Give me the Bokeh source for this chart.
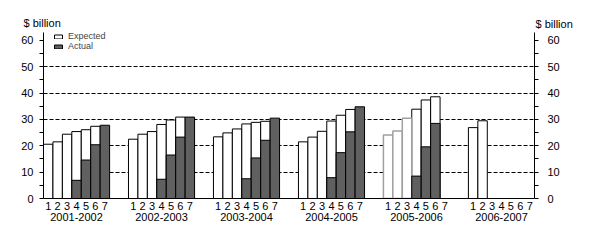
from bokeh.plotting import figure
from bokeh.models import (ColumnDataSource, FixedTicker, LinearAxis, Range1d,
                          Label, Legend, LegendItem)
from bokeh.embed import file_html
from bokeh.resources import INLINE

# ---- data ----
years = ["2001-2002", "2002-2003", "2003-2004", "2004-2005", "2005-2006", "2006-2007"]
estimates = [1, 2, 3, 4, 5, 6, 7]

expected_2001 = [20.6, 21.5, 24.4, 25.4, 26.1, 27.4, None]
expected_2002 = [22.5, 24.4, 25.4, 28.1, 29.8, 30.9, None]
expected_2003 = [23.4, 24.9, 26.4, 28.3, 28.9, 29.3, None]
expected_2004 = [21.5, 23.3, 25.5, 29.4, 31.6, 33.8, None]
expected_2005 = [24.1, 25.6, 30.5, 33.9, 37.4, 38.6, None]
expected_2006 = [26.9, 29.5, None, None, None, None, None]

actual_2001 = [None, None, None, 6.9, 14.6, 20.4, 27.8]
actual_2002 = [None, None, None, 7.3, 16.5, 23.3, 30.9]
actual_2003 = [None, None, None, 7.5, 15.4, 22.1, 30.5]
actual_2004 = [None, None, None, 7.9, 17.4, 25.3, 34.8]
actual_2005 = [None, None, None, 8.5, 19.6, 28.5, None]
actual_2006 = [None, None, None, None, None, None, None]

grey_year = "2005-2006"
grey_upto = 3

y_ticks = [0, 10, 20, 30, 40, 50, 60]
grid_values = [10, 20, 30, 40, 50]
unit_label = "$ billion"

expected_all = [expected_2001, expected_2002, expected_2003, expected_2004, expected_2005, expected_2006]
actual_all = [actual_2001, actual_2002, actual_2003, actual_2004, actual_2005, actual_2006]

SLOTS = len(estimates) + 2

def xpos(g, i):
    return g * SLOTS + i - 0.5

exp_black = dict(x=[], top=[])
exp_grey = dict(x=[], top=[])
act = dict(x=[], top=[])
tick_x, tick_labels = [], {}
for g, yr in enumerate(years):
    for k, est in enumerate(estimates):
        x = xpos(g, est)
        tick_x.append(x)
        tick_labels[x] = str(est)
        e = expected_all[g][k]
        if e is not None:
            if yr == grey_year and est <= grey_upto:
                exp_grey["x"].append(x); exp_grey["top"].append(e)
            else:
                exp_black["x"].append(x); exp_black["top"].append(e)
        a = actual_all[g][k]
        if a is not None:
            act["x"].append(x); act["top"].append(a)

year_x = [g * SLOTS + len(estimates) / 2 for g in range(len(years))]
x_max = (len(years) - 1) * SLOTS + len(estimates)

FONT = "Liberation Sans"

p = figure(width=590, height=244, frame_width=491, frame_height=166,
           min_border_left=43, min_border_right=56, min_border_top=32, min_border_bottom=46,
           x_range=Range1d(0, x_max), y_range=Range1d(0, 63),
           output_backend="svg", toolbar_location=None, x_axis_location=None,
           y_axis_location=None)
p.outline_line_color = None
p.background_fill_color = "white"
p.border_fill_color = "white"

p.xgrid.visible = False
p.ygrid.ticker = FixedTicker(ticks=grid_values)
p.ygrid.grid_line_color = "black"
p.ygrid.grid_line_dash = "4 2"
p.ygrid.grid_line_width = 1

r_eb = p.vbar(x="x", top="top", bottom=0, width=1, source=ColumnDataSource(exp_black),
              fill_color="white", line_color="black", line_width=1)
r_eg = p.vbar(x="x", top="top", bottom=0, width=1, source=ColumnDataSource(exp_grey),
              fill_color="white", line_color="#a0a0a0", line_width=1.5)
r_a = p.vbar(x="x", top="top", bottom=0, width=1, source=ColumnDataSource(act),
             fill_color="#606060", line_color="black", line_width=1)

def y_axis():
    ax = LinearAxis(ticker=FixedTicker(ticks=y_ticks, minor_ticks=[v + 5 for v in y_ticks[:-1]]))
    ax.major_tick_out = 4
    ax.major_tick_in = 0
    ax.minor_tick_out = 4
    ax.minor_tick_in = 0
    ax.axis_line_color = "black"
    ax.major_label_text_font = FONT
    ax.major_label_text_font_size = "11px"
    ax.major_label_text_color = "black"
    return ax

left = y_axis()
left.major_label_standoff = 6
p.add_layout(left, "left")
right = y_axis()
right.major_label_standoff = 9
p.add_layout(right, "right")

xax = LinearAxis(ticker=FixedTicker(ticks=tick_x))
xax.major_label_overrides = tick_labels
xax.major_tick_line_color = None
xax.minor_tick_line_color = None
xax.major_tick_out = 0
xax.major_label_standoff = 3
xax.major_label_text_font = FONT
xax.major_label_text_font_size = "11px"
xax.major_label_text_color = "black"
xax.axis_line_color = "black"
p.add_layout(xax, "below")

yax = LinearAxis(ticker=FixedTicker(ticks=year_x))
yax.major_label_overrides = {x: y for x, y in zip(year_x, years)}
yax.major_tick_line_color = None
yax.minor_tick_line_color = None
yax.major_tick_out = 0
yax.major_tick_in = 0
yax.axis_line_color = None
yax.major_label_standoff = 0
yax.major_label_text_font = FONT
yax.major_label_text_font_size = "11px"
yax.major_label_text_color = "black"
p.add_layout(yax, "below")

# unit labels in the top side panels (not clipped to the frame)
p.add_layout(Label(x=-20, y=10, x_units="screen", y_units="screen", text=unit_label,
                   text_align="left", text_baseline="middle", text_font=FONT,
                   text_font_size="11px", text_color="black"), "above")
p.add_layout(Label(x=492, y=-3, x_units="screen", y_units="screen", text=unit_label,
                   text_align="left", text_baseline="middle", text_font=FONT,
                   text_font_size="11px", text_color="black"), "above")

legend = Legend(items=[LegendItem(label="Expected", renderers=[r_eb]),
                       LegendItem(label="Actual", renderers=[r_a])],
                location=(10, 147), orientation="vertical")
legend.glyph_width = 10
legend.glyph_height = 5
legend.label_height = 9
legend.label_standoff = 5
legend.spacing = 0
legend.padding = 0
legend.margin = 0
legend.border_line_color = None
legend.background_fill_alpha = 0
legend.label_text_font = FONT
legend.label_text_font_size = "9px"
p.add_layout(legend)

open("out.html", "w").write(file_html(p, INLINE))
